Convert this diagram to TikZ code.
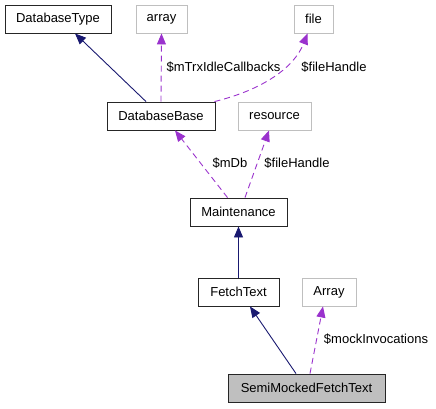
\documentclass[tikz,border=0pt]{standalone}
\usepackage{fontspec}
\setmainfont{Liberation Sans}
\usetikzlibrary{arrows.meta}
\definecolor{navyc}{HTML}{191970}
\definecolor{purplec}{HTML}{9A32CD}
\definecolor{grayb}{HTML}{BFBFBF}
\begin{document}
\begin{tikzpicture}[x={(1pt,0)},y={(0,-1pt)},
  every node/.style={font=\fontsize{13}{15}\selectfont, inner sep=0pt},
  cls/.style={draw=black!85, line width=0.9pt, minimum height=28pt, fill=white},
  ext/.style={draw=grayb, line width=0.9pt, minimum height=28pt, fill=white},
  inh/.style={draw=navyc, line width=0.9pt, -{Triangle[length=11pt,width=9pt]}},
  use/.style={draw=purplec, line width=0.9pt, dash pattern=on 6pt off 4pt, -{Triangle[length=11pt,width=9pt]}},
  lbl/.style={font=\fontsize{13}{15}\selectfont}]
\useasboundingbox (0,0) rectangle (436,408);
\node[cls, minimum width=106pt] (dbtype) at (58,19) {DatabaseType};
\node[ext, minimum width=51pt] (array) at (161.5,19) {array};
\node[ext, minimum width=39pt] (file) at (313.5,19) {file};
\node[cls, minimum width=108pt] (dbbase) at (161,116) {DatabaseBase};
\node[ext, minimum width=73pt] (resource) at (274.5,116) {resource};
\node[cls, minimum width=97pt] (maint) at (238.5,212) {Maintenance};
\node[cls, minimum width=81pt] (fetch) at (238.5,292) {FetchText};
\node[ext, minimum width=54pt] (Array) at (329,292) {Array};
\node[cls, minimum width=157pt, fill=grayb] (semi) at (306.5,388) {SemiMockedFetchText};

\draw[inh] ([xshift=-15pt]dbbase.north) -- ([xshift=17pt]dbtype.south);
\draw[use] (dbbase.north) -- (array.south);
\draw[use] ([xshift=-1pt]dbbase.north east) .. controls (262,90) and (294,68) .. ([xshift=-6pt]file.south);
\draw[use] ([xshift=-11pt]maint.north) -- ([xshift=14pt]dbbase.south);
\draw[use] ([xshift=6.5pt]maint.north) -- ([xshift=-5.5pt]resource.south);
\draw[inh] (fetch.north) -- (maint.south);
\draw[inh] ([xshift=-10.5pt]semi.north) -- ([xshift=11.5pt]fetch.south);
\draw[use] ([xshift=3.5pt]semi.north) -- ([xshift=-6pt]Array.south);

\node[lbl] (l1) at (223.5,67) {\$mTrxIdleCallbacks};
\node[lbl] (l2) at (334,67) {\$fileHandle};
\node[lbl] (l3) at (230,163) {\$mDb};
\node[lbl] (l4) at (297,163) {\$fileHandle};
\node[lbl] (l5) at (376,339) {\$mockInvocations};
\end{tikzpicture}
\end{document}
